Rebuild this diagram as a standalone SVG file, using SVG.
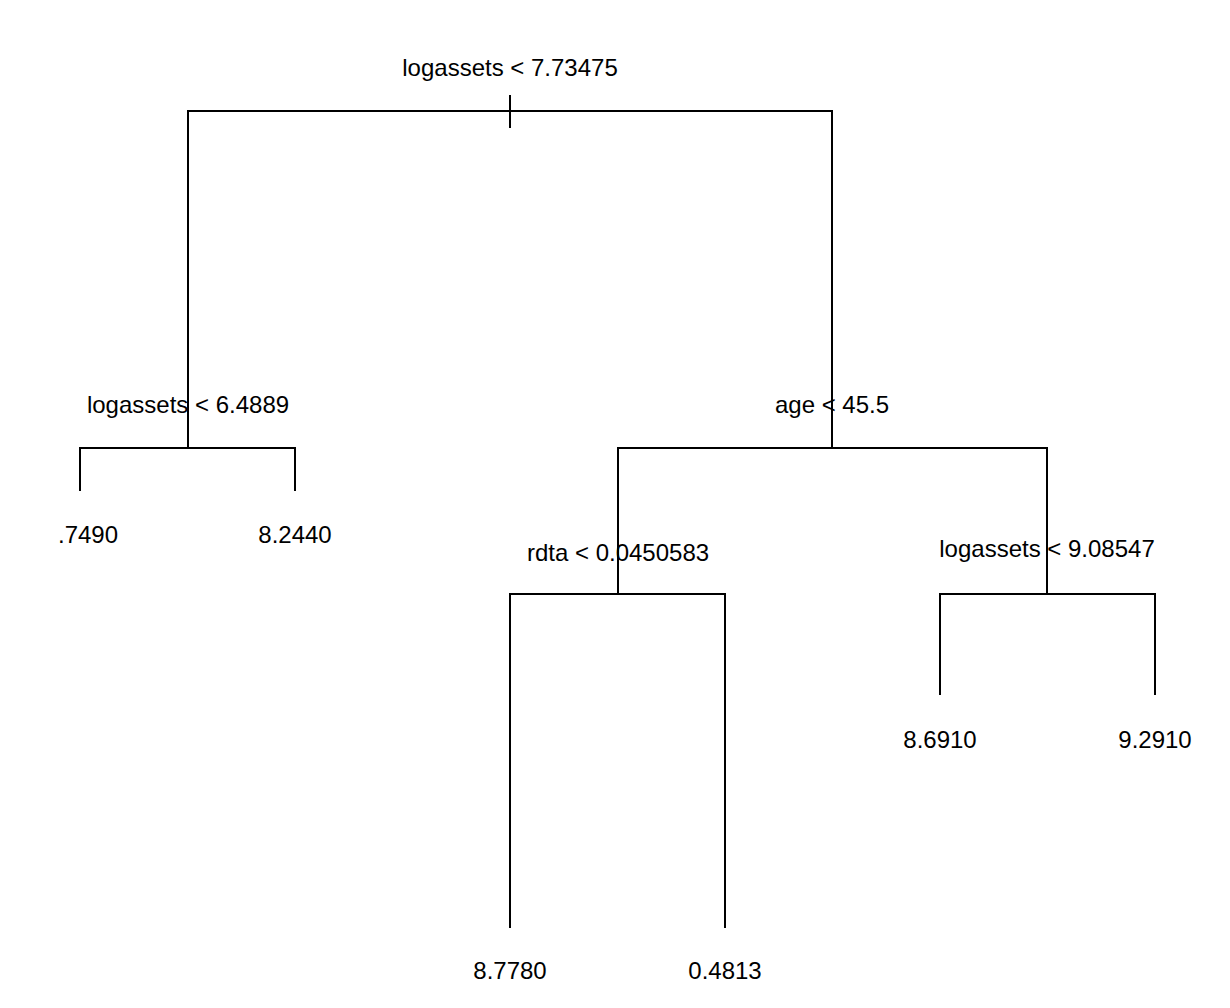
<svg xmlns="http://www.w3.org/2000/svg" width="1230" height="1008" viewBox="0 0 1230 1008">
<style>
line,path{stroke:#000;stroke-width:2;fill:none}
text{font-family:"Liberation Sans",Arial,sans-serif;font-size:24px;text-anchor:middle;fill:#000}
</style>
<rect width="1230" height="1008" fill="#fff"/>
<g id="connectors">
<path d="M188,448 V111 H832 V448"/>
<line x1="510" y1="95" x2="510" y2="128"/>
<path d="M80,491 V448 H295 V491"/>
<path d="M618,594 V448 H1047 V594"/>
<path d="M510,928 V594 H725 V928"/>
<path d="M940,695 V594 H1155 V695"/>
</g>
<g id="n1"><text x="510" y="76">logassets &lt; 7.73475</text></g>
<g id="n2"><text x="188" y="413">logassets &lt; 6.4889</text></g>
<g id="n3"><text x="832" y="413">age &lt; 45.5</text></g>
<g id="n4"><text x="618" y="561">rdta &lt; 0.0450583</text></g>
<g id="n5"><text x="1047" y="557">logassets &lt; 9.08547</text></g>
<g id="l1"><text x="88" y="543">.7490</text></g>
<g id="l2"><text x="295" y="543">8.2440</text></g>
<g id="l3"><text x="510" y="979">8.7780</text></g>
<g id="l4"><text x="725" y="979">0.4813</text></g>
<g id="l5"><text x="940" y="748">8.6910</text></g>
<g id="l6"><text x="1155" y="748">9.2910</text></g>
</svg>
